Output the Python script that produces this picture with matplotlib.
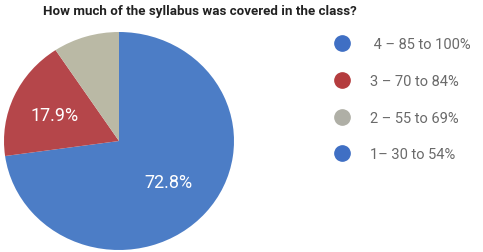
import matplotlib.pyplot as plt
from matplotlib.lines import Line2D

plt.rcParams['font.family'] = ['Roboto', 'DejaVu Sans']

labels = ['4 \u2013 85 to 100%', '3 \u2013 70 to 84%', '2 \u2013 55 to 69%', '1\u2013 30 to 54%']
shares = [72.8, 17.9, 9.3, 0.0]
colors = ['#4c7dc6', '#b5464a', '#bab9a5', '#4c7dc6']
legend_colors = ['#3f6fc4', '#b43c3e', '#afafa6', '#3f6fc4']

W, H = 483, 253
fig = plt.figure(figsize=(W / 100, H / 100), dpi=100)
fig.patch.set_facecolor('white')

# pie is slightly wider than tall in the reference
cx, cy, rx, ry = 119, 142, 115, 109
ax = fig.add_axes([(cx - rx) / W, 1 - (cy + ry) / H, 2 * rx / W, 2 * ry / H])
wedges, _ = ax.pie(shares, colors=colors, startangle=90, counterclock=False,
                   wedgeprops=dict(linewidth=0))
ax.set_aspect('auto')
ax.set_xlim(-1, 1)
ax.set_ylim(-1, 1)
ax.axis('off')

# percentage labels inside slices
ax.text(-0.56, 0.24, '17.9%', color='white', fontsize=13, ha='center', va='center')
ax.text(0.43, -0.38, '72.8%', color='white', fontsize=13, ha='center', va='center')

fig.text(43 / W, 1 - 12 / H, 'How much of the syllabus was covered in the class?',
         fontsize=9.6, fontweight='bold', color='#222222', ha='left', va='center')

handles = [Line2D([], [], marker='o', linestyle='none', markersize=11,
                  markerfacecolor=c, markeredgecolor=c) for c in legend_colors]
leg_labels = [' ' + labels[0]] + labels[1:]
fig.legend(handles, leg_labels, loc='upper left', bbox_to_anchor=(320 / W, 1 - 25 / H),
           frameon=False, fontsize=10.5, labelcolor='#6a6a6a', handletextpad=1.3,
           labelspacing=1.56, handlelength=1.2)

fig.savefig('out.png', dpi=100)
